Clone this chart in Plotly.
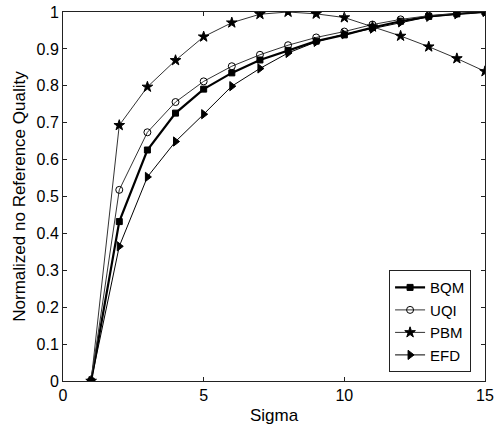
import plotly.graph_objects as go

sigma = list(range(1, 16))
bqm = [0, 0.432, 0.626, 0.726, 0.791, 0.835, 0.870, 0.896, 0.921, 0.938, 0.958, 0.975, 0.988, 0.995, 1.0]
uqi = [0, 0.518, 0.674, 0.756, 0.812, 0.853, 0.884, 0.910, 0.931, 0.947, 0.966, 0.980, 0.990, 0.996, 1.0]
pbm = [0, 0.693, 0.797, 0.869, 0.933, 0.971, 0.994, 1.0, 0.995, 0.985, 0.960, 0.935, 0.906, 0.874, 0.839]
efd = [0, 0.365, 0.553, 0.649, 0.723, 0.799, 0.847, 0.889, 0.919, 0.940, 0.955, 0.972, 0.987, 0.994, 1.0]

x_ticks = [0, 5, 10, 15]
y_ticks = [round(i * 0.1, 1) for i in range(11)]

# name, values, marker symbol, line colour, line width, marker size
series = [
    ("BQM", bqm, "square", "black", 2.2, 6),
    ("UQI", uqi, "circle-open", "#333", 1.0, 7),
    ("PBM", pbm, "star", "#333", 1.0, 8),
    ("EFD", efd, "triangle-right", "black", 1.0, 8),
]

fig = go.Figure()
for name, vals, sym, lc, lw, ms in series:
    fig.add_trace(go.Scatter(
        x=sigma, y=vals, name=name, mode="lines+markers",
        line=dict(color=lc, width=lw),
        marker=dict(symbol=sym, size=ms, color="black", line=dict(color="black", width=1)),
    ))

axis_common = dict(
    showgrid=False, zeroline=False, showline=True, linecolor="#222", linewidth=1,
    mirror="ticks", ticks="inside", ticklen=4, tickcolor="#222",
    tickfont=dict(family="Liberation Sans, Arial", size=16, color="black"),
)

fig.update_layout(
    width=496, height=430,
    margin=dict(l=63, r=11, t=12, b=49, autoexpand=False),
    paper_bgcolor="white", plot_bgcolor="white",
    font=dict(family="Liberation Sans, Arial", size=16, color="black"),
    xaxis=dict(range=[0, 15], tickvals=x_ticks, ticktext=[str(v) for v in x_ticks],
               automargin=False,
               title=dict(text="Sigma", standoff=5, font=dict(size=17)), **axis_common),
    yaxis=dict(range=[0, 1], tickvals=y_ticks, automargin=False,
               ticktext=[("0" if v == 0 else ("1" if v == 1 else f"{v:.1f}")) for v in y_ticks],
               title=dict(text="Normalized no Reference Quality", standoff=6, font=dict(size=17)),
               **axis_common),
    legend=dict(x=0.967, y=0.024, xanchor="right", yanchor="bottom",
                bgcolor="white", bordercolor="#222", borderwidth=1,
                font=dict(size=15), tracegroupgap=0, itemwidth=30),
    showlegend=True,
)

fig.write_html("out.html")
